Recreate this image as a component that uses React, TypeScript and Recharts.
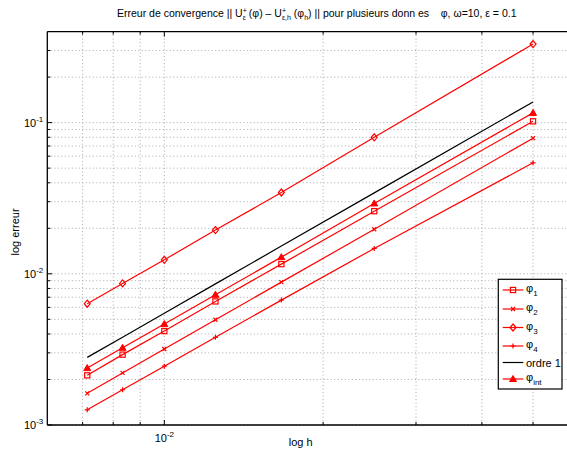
import React from 'react';
import { LineChart, Line, XAxis, YAxis, CartesianGrid } from 'recharts';

const hValues = [1 / 140, 1 / 120, 1 / 100, 1 / 80, 1 / 60, 1 / 40, 1 / 20];
const phi1 = [0.00213, 0.00292, 0.00418, 0.00657, 0.01159, 0.02596, 0.102];
const phi2 = [0.00162, 0.00221, 0.00318, 0.00497, 0.00881, 0.0197, 0.0789];
const phi3 = [0.00634, 0.00864, 0.01238, 0.01946, 0.0345, 0.08, 0.331];
const phi4 = [0.00126, 0.00171, 0.00245, 0.0038, 0.0067, 0.01472, 0.0542];
const ordre1 = [0.0028, 0.00381, 0.00549, 0.00858, 0.01525, 0.0343, 0.137];
const phiInt = [0.00238, 0.00324, 0.00465, 0.00727, 0.01289, 0.0292, 0.116];

const xTicks = [0.007, 0.008, 0.009, 0.01, 0.02, 0.03, 0.04, 0.05];
const yTicks = [
  0.001, 0.002, 0.003, 0.004, 0.005, 0.006, 0.007, 0.008, 0.009,
  0.01, 0.02, 0.03, 0.04, 0.05, 0.06, 0.07, 0.08, 0.09,
  0.1, 0.2, 0.3,
];
const xDomain = [0.006, 0.06];
const yDomain = [0.001, 0.4];

const data = hValues.map((h, i) => ({
  h,
  phi1: phi1[i],
  phi2: phi2[i],
  phi3: phi3[i],
  phi4: phi4[i],
  ordre1: ordre1[i],
  phiInt: phiInt[i],
}));

const FONT = '"Liberation Sans", Arial, Helvetica, sans-serif';
const RED = '#ff0000';

const isMajor = (v: number) => {
  const l = Math.log10(v);
  return Math.abs(l - Math.round(l)) < 1e-6;
};
const expOf = (v: number) => String(Math.round(Math.log10(v)));

const BottomTick = (props: any) => {
  const { x, y, payload } = props;
  const v = payload.value;
  const major = isMajor(v);
  return (
    <g>
      <line x1={x} y1={y} x2={x} y2={y - (major ? 5 : 3)} stroke="#000" strokeWidth={1} />
      {major && (
        <text x={x} y={y + 17} textAnchor="middle" fontSize={11} fontFamily={FONT} fill="#000">
          10<tspan dy={-5} fontSize={8}>{expOf(v)}</tspan>
        </text>
      )}
    </g>
  );
};

const TopTick = (props: any) => {
  const { x, y, payload } = props;
  const major = isMajor(payload.value);
  return <line x1={x} y1={y} x2={x} y2={y + (major ? 5 : 3)} stroke="#000" strokeWidth={1} />;
};

const LeftTick = (props: any) => {
  const { x, y, payload } = props;
  const v = payload.value;
  const major = isMajor(v);
  return (
    <g>
      <line x1={x} y1={y} x2={x + (major ? 5 : 3)} y2={y} stroke="#000" strokeWidth={1} />
      {major && (
        <text x={x - 4} y={y + 4} textAnchor="end" fontSize={11} fontFamily={FONT} fill="#000">
          10<tspan dy={-5} fontSize={8}>{expOf(v)}</tspan>
        </text>
      )}
    </g>
  );
};

const Square = ({ cx, cy }: any) => (
  <rect x={cx - 2.6} y={cy - 2.6} width={5.2} height={5.2} fill="none" stroke={RED} strokeWidth={1.2} />
);
const Cross = ({ cx, cy }: any) => (
  <path
    d={`M${cx - 2},${cy - 2}L${cx + 2},${cy + 2}M${cx - 2},${cy + 2}L${cx + 2},${cy - 2}`}
    stroke={RED}
    strokeWidth={1.2}
    fill="none"
  />
);
const Diamond = ({ cx, cy }: any) => (
  <path
    d={`M${cx},${cy - 3.5}L${cx + 3},${cy}L${cx},${cy + 3.5}L${cx - 3},${cy}Z`}
    stroke={RED}
    strokeWidth={1.2}
    fill="none"
  />
);
const Plus = ({ cx, cy }: any) => (
  <path
    d={`M${cx - 2.5},${cy}L${cx + 2.5},${cy}M${cx},${cy - 2.5}L${cx},${cy + 2.5}`}
    stroke={RED}
    strokeWidth={1.2}
    fill="none"
  />
);
const Triangle = ({ cx, cy }: any) => (
  <path
    d={`M${cx},${cy - 3.5}L${cx + 3.5},${cy + 2.5}L${cx - 3.5},${cy + 2.5}Z`}
    stroke={RED}
    strokeWidth={1}
    fill={RED}
  />
);

const mk = (C: any) => (p: any) => <C key={`d${p.index}`} cx={p.cx} cy={p.cy} />;

const legendItems = [
  { sub: '1', Marker: Square, color: RED },
  { sub: '2', Marker: Cross, color: RED },
  { sub: '3', Marker: Diamond, color: RED },
  { sub: '4', Marker: Plus, color: RED },
  { text: 'ordre 1', Marker: null, color: '#000' },
  { sub: 'int', Marker: Triangle, color: RED },
];
const legendRows = [290, 309, 327.5, 346, 362.5, 379];

export default function App() {
  return (
    <div
      style={{
        position: 'absolute',
        left: 0,
        top: 0,
        width: 567,
        height: 450,
        overflow: 'hidden',
        background: '#fff',
      }}
    >
      <LineChart
        width={600}
        height={450}
        data={data}
        margin={{ top: 30.6, right: 25.2, bottom: 24, left: 46.3 }}
      >
        <CartesianGrid
          stroke="#a8a8a8"
          strokeDasharray="1 2.5"
          strokeWidth={1}
          horizontalValues={yTicks}
          verticalValues={xTicks}
        />
        <XAxis
          dataKey="h"
          type="number"
          scale="log"
          domain={xDomain}
          ticks={xTicks}
          interval={0}
          allowDataOverflow
          height={1}
          tickSize={0}
          tickMargin={0}
          tickLine={false}
          tick={<BottomTick />}
          axisLine={{ stroke: '#000', strokeWidth: 1.3 }}
        />
        <XAxis
          xAxisId="top"
          orientation="top"
          dataKey="h"
          type="number"
          scale="log"
          domain={xDomain}
          ticks={xTicks}
          interval={0}
          allowDataOverflow
          height={1}
          tickSize={0}
          tickMargin={0}
          tickLine={false}
          tick={<TopTick />}
          axisLine={{ stroke: '#000', strokeWidth: 1.3 }}
        />
        <YAxis
          type="number"
          scale="log"
          domain={yDomain}
          ticks={yTicks}
          interval={0}
          allowDataOverflow
          width={1}
          tickSize={0}
          tickMargin={0}
          tickLine={false}
          tick={<LeftTick />}
          axisLine={{ stroke: '#000', strokeWidth: 1.3 }}
        />
        <Line dataKey="phi1" stroke={RED} strokeWidth={1.2} dot={mk(Square)} isAnimationActive={false} />
        <Line dataKey="phi2" stroke={RED} strokeWidth={1.2} dot={mk(Cross)} isAnimationActive={false} />
        <Line dataKey="phi3" stroke={RED} strokeWidth={1.2} dot={mk(Diamond)} isAnimationActive={false} />
        <Line dataKey="phi4" stroke={RED} strokeWidth={1.2} dot={mk(Plus)} isAnimationActive={false} />
        <Line dataKey="ordre1" stroke="#000" strokeWidth={1.2} dot={false} isAnimationActive={false} />
        <Line dataKey="phiInt" stroke={RED} strokeWidth={1.2} dot={mk(Triangle)} isAnimationActive={false} />
      </LineChart>
      <svg
        width={567}
        height={450}
        style={{ position: 'absolute', left: 0, top: 0, pointerEvents: 'none' }}
        fontFamily={FONT}
      >
        <text x={117} y={17} fontSize={10.5} fill="#000" style={{ whiteSpace: 'pre' }} xmlSpace="preserve">
          Erreur de convergence || U
          <tspan dy={-4} fontSize={7}>+</tspan>
          <tspan dx={-4} dy={7} fontSize={7}>ε</tspan>
          <tspan dy={-3}> (φ) – U</tspan>
          <tspan dy={-4} fontSize={7}>+</tspan>
          <tspan dx={-4} dy={7} fontSize={7}>ε,h</tspan>
          <tspan dy={-3}> (φ</tspan>
          <tspan dy={3} fontSize={7}>h</tspan>
          <tspan dy={-3}>{') || pour plusieurs donn es    φ, ω=10, ε = 0.1'}</tspan>
        </text>
        <text x={300.7} y={446} fontSize={11} textAnchor="middle" fill="#000">
          log h
        </text>
        <text
          x={0}
          y={0}
          fontSize={11}
          textAnchor="middle"
          fill="#000"
          transform="translate(19,232) rotate(-90)"
        >
          log erreur
        </text>
        <rect x={498.3} y={279.3} width={63.7} height={109.7} fill="#fff" stroke="#000" strokeWidth={1.2} />
        {legendItems.map((it, i) => {
          const cy = legendRows[i];
          const M = it.Marker as any;
          return (
            <g key={i}>
              <line x1={502.7} y1={cy} x2={523.3} y2={cy} stroke={it.color} strokeWidth={1.2} />
              {M && <M cx={513} cy={cy} />}
              {it.text ? (
                <text x={526} y={cy + 4} fontSize={11} fill="#000">
                  {it.text}
                </text>
              ) : (
                <text x={526} y={cy + 2} fontSize={11} fill="#000">
                  φ<tspan dy={4} fontSize={8}>{it.sub}</tspan>
                </text>
              )}
            </g>
          );
        })}
      </svg>
    </div>
  );
}
